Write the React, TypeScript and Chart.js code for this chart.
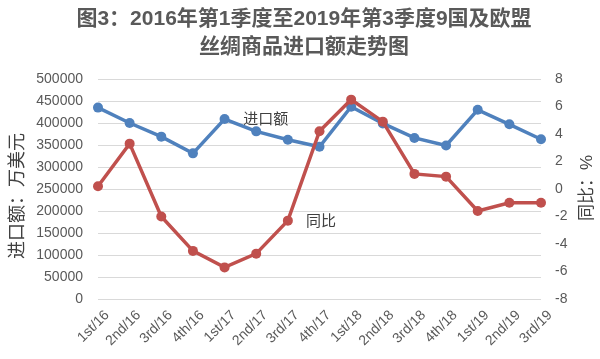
import React, { useEffect, useRef } from 'react';
import { Chart, registerables } from 'chart.js';

Chart.register(...registerables);

const categories = ['1st/16', '2nd/16', '3rd/16', '4th/16', '1st/17', '2nd/17', '3rd/17', '4th/17', '1st/18', '2nd/18', '3rd/18', '4th/18', '1st/19', '2nd/19', '3rd/19'];
const importValues = [435000, 400000, 369000, 331000, 409000, 381000, 362000, 346000, 437000, 399000, 366000, 349000, 430000, 397000, 363000];
const yoyValues = [0.2, 3.3, -2.0, -4.5, -5.7, -4.7, -2.3, 4.2, 6.5, 4.9, 1.1, 0.9, -1.6, -1.0, -1.0];
const leftMin = 0;
const leftMax = 500000;
const leftStep = 50000;
const rightMin = -8;
const rightMax = 8;
const rightStep = 2;
const titleLines = ['图3：2016年第1季度至2019年第3季度9国及欧盟', '丝绸商品进口额走势图'];
const leftAxisTitle = '进口额：万美元';
const rightAxisTitle = '同比：%';
const seriesNames = ['进口额', '同比'];
// annotation anchors: [category index, value]
const importLabelAnchor = [5.3, 407000];
const yoyLabelAnchor = [7.05, -2.4];

const CJK = '"Liberation Sans", "Noto Sans CJK SC", sans-serif';

const textPlugin = {
  id: 'textPlugin',
  afterDraw(chart: any) {
    const ctx = chart.ctx;
    const xs = chart.scales.x;
    const yl = chart.scales.y;
    const yr = chart.scales.y1;
    ctx.save();
    // title
    ctx.fillStyle = '#595959';
    ctx.font = `bold 21px ${CJK}`;
    ctx.textAlign = 'center';
    ctx.textBaseline = 'middle';
    ctx.fillText(titleLines[0], 304, 19);
    ctx.fillText(titleLines[1], 304, 47);
    // axis titles
    ctx.fillStyle = '#404040';
    ctx.font = `18px ${CJK}`;
    ctx.save();
    ctx.translate(18, 196);
    ctx.rotate(-Math.PI / 2);
    ctx.fillText(leftAxisTitle, 0, 0);
    ctx.restore();
    ctx.font = `17px ${CJK}`;
    ctx.save();
    ctx.translate(587, 188);
    ctx.rotate(-Math.PI / 2);
    ctx.fillText(rightAxisTitle, 0, 0);
    ctx.restore();
    // series labels
    ctx.font = `15px ${CJK}`;
    ctx.fillStyle = '#404040';
    ctx.fillText(seriesNames[0], xs.getPixelForValue(importLabelAnchor[0]), yl.getPixelForValue(importLabelAnchor[1]));
    ctx.fillText(seriesNames[1], xs.getPixelForValue(yoyLabelAnchor[0]), yr.getPixelForValue(yoyLabelAnchor[1]));
    ctx.restore();
  },
};

export default function App() {
  const ref = useRef<HTMLCanvasElement | null>(null);
  useEffect(() => {
    document.body.style.margin = '0';
    const canvas = ref.current!;
    const chart = new Chart(canvas, {
      type: 'line',
      data: {
        labels: categories,
        datasets: [
          {
            label: seriesNames[0],
            data: importValues,
            yAxisID: 'y',
            borderColor: '#4F81BD',
            backgroundColor: '#4F81BD',
            pointBackgroundColor: '#4F81BD',
            pointBorderWidth: 0,
            pointRadius: 5,
            borderWidth: 3.5,
            tension: 0,
            order: 1,
          },
          {
            label: seriesNames[1],
            data: yoyValues,
            yAxisID: 'y1',
            borderColor: '#C0504D',
            backgroundColor: '#C0504D',
            pointBackgroundColor: '#C0504D',
            pointBorderWidth: 0,
            pointRadius: 5,
            borderWidth: 3.5,
            tension: 0,
            order: 0,
          },
        ],
      },
      options: {
        responsive: false,
        animation: false,
        layout: { padding: { top: 79, left: 0, right: 0, bottom: 0 } },
        plugins: {
          legend: { display: false },
          title: { display: false },
          tooltip: { enabled: false },
        },
        scales: {
          x: {
            grid: { display: false },
            border: { display: false },
            ticks: {
              color: '#595959',
              font: { size: 14, family: 'Liberation Sans' },
              maxRotation: 45,
              minRotation: 45,
              padding: 0,
              labelOffset: 9,
              autoSkip: false,
            },
            afterFit: (s: any) => { s.height = 60; },
          },
          y: {
            position: 'left',
            min: leftMin,
            max: leftMax,
            grid: { color: '#d9d9d9', lineWidth: 1, drawTicks: false },
            border: { display: false },
            ticks: {
              stepSize: leftStep,
              color: '#595959',
              font: { size: 14, family: 'Liberation Sans' },
              padding: 15,
              callback: (v: any) => String(v),
            },
            afterFit: (s: any) => { s.width = 98; },
          },
          y1: {
            position: 'right',
            min: rightMin,
            max: rightMax,
            grid: { display: false, drawTicks: false },
            border: { display: false },
            ticks: {
              stepSize: rightStep,
              color: '#595959',
              font: { size: 14, family: 'Liberation Sans' },
              padding: 14,
              callback: (v: any) => String(v),
            },
            afterFit: (s: any) => { s.width = 59; },
          },
        },
      },
      plugins: [textPlugin],
    });
    return () => chart.destroy();
  }, []);
  return (
    <div style={{ width: 600, height: 359 }}>
      <canvas ref={ref} width={600} height={359} />
    </div>
  );
}
